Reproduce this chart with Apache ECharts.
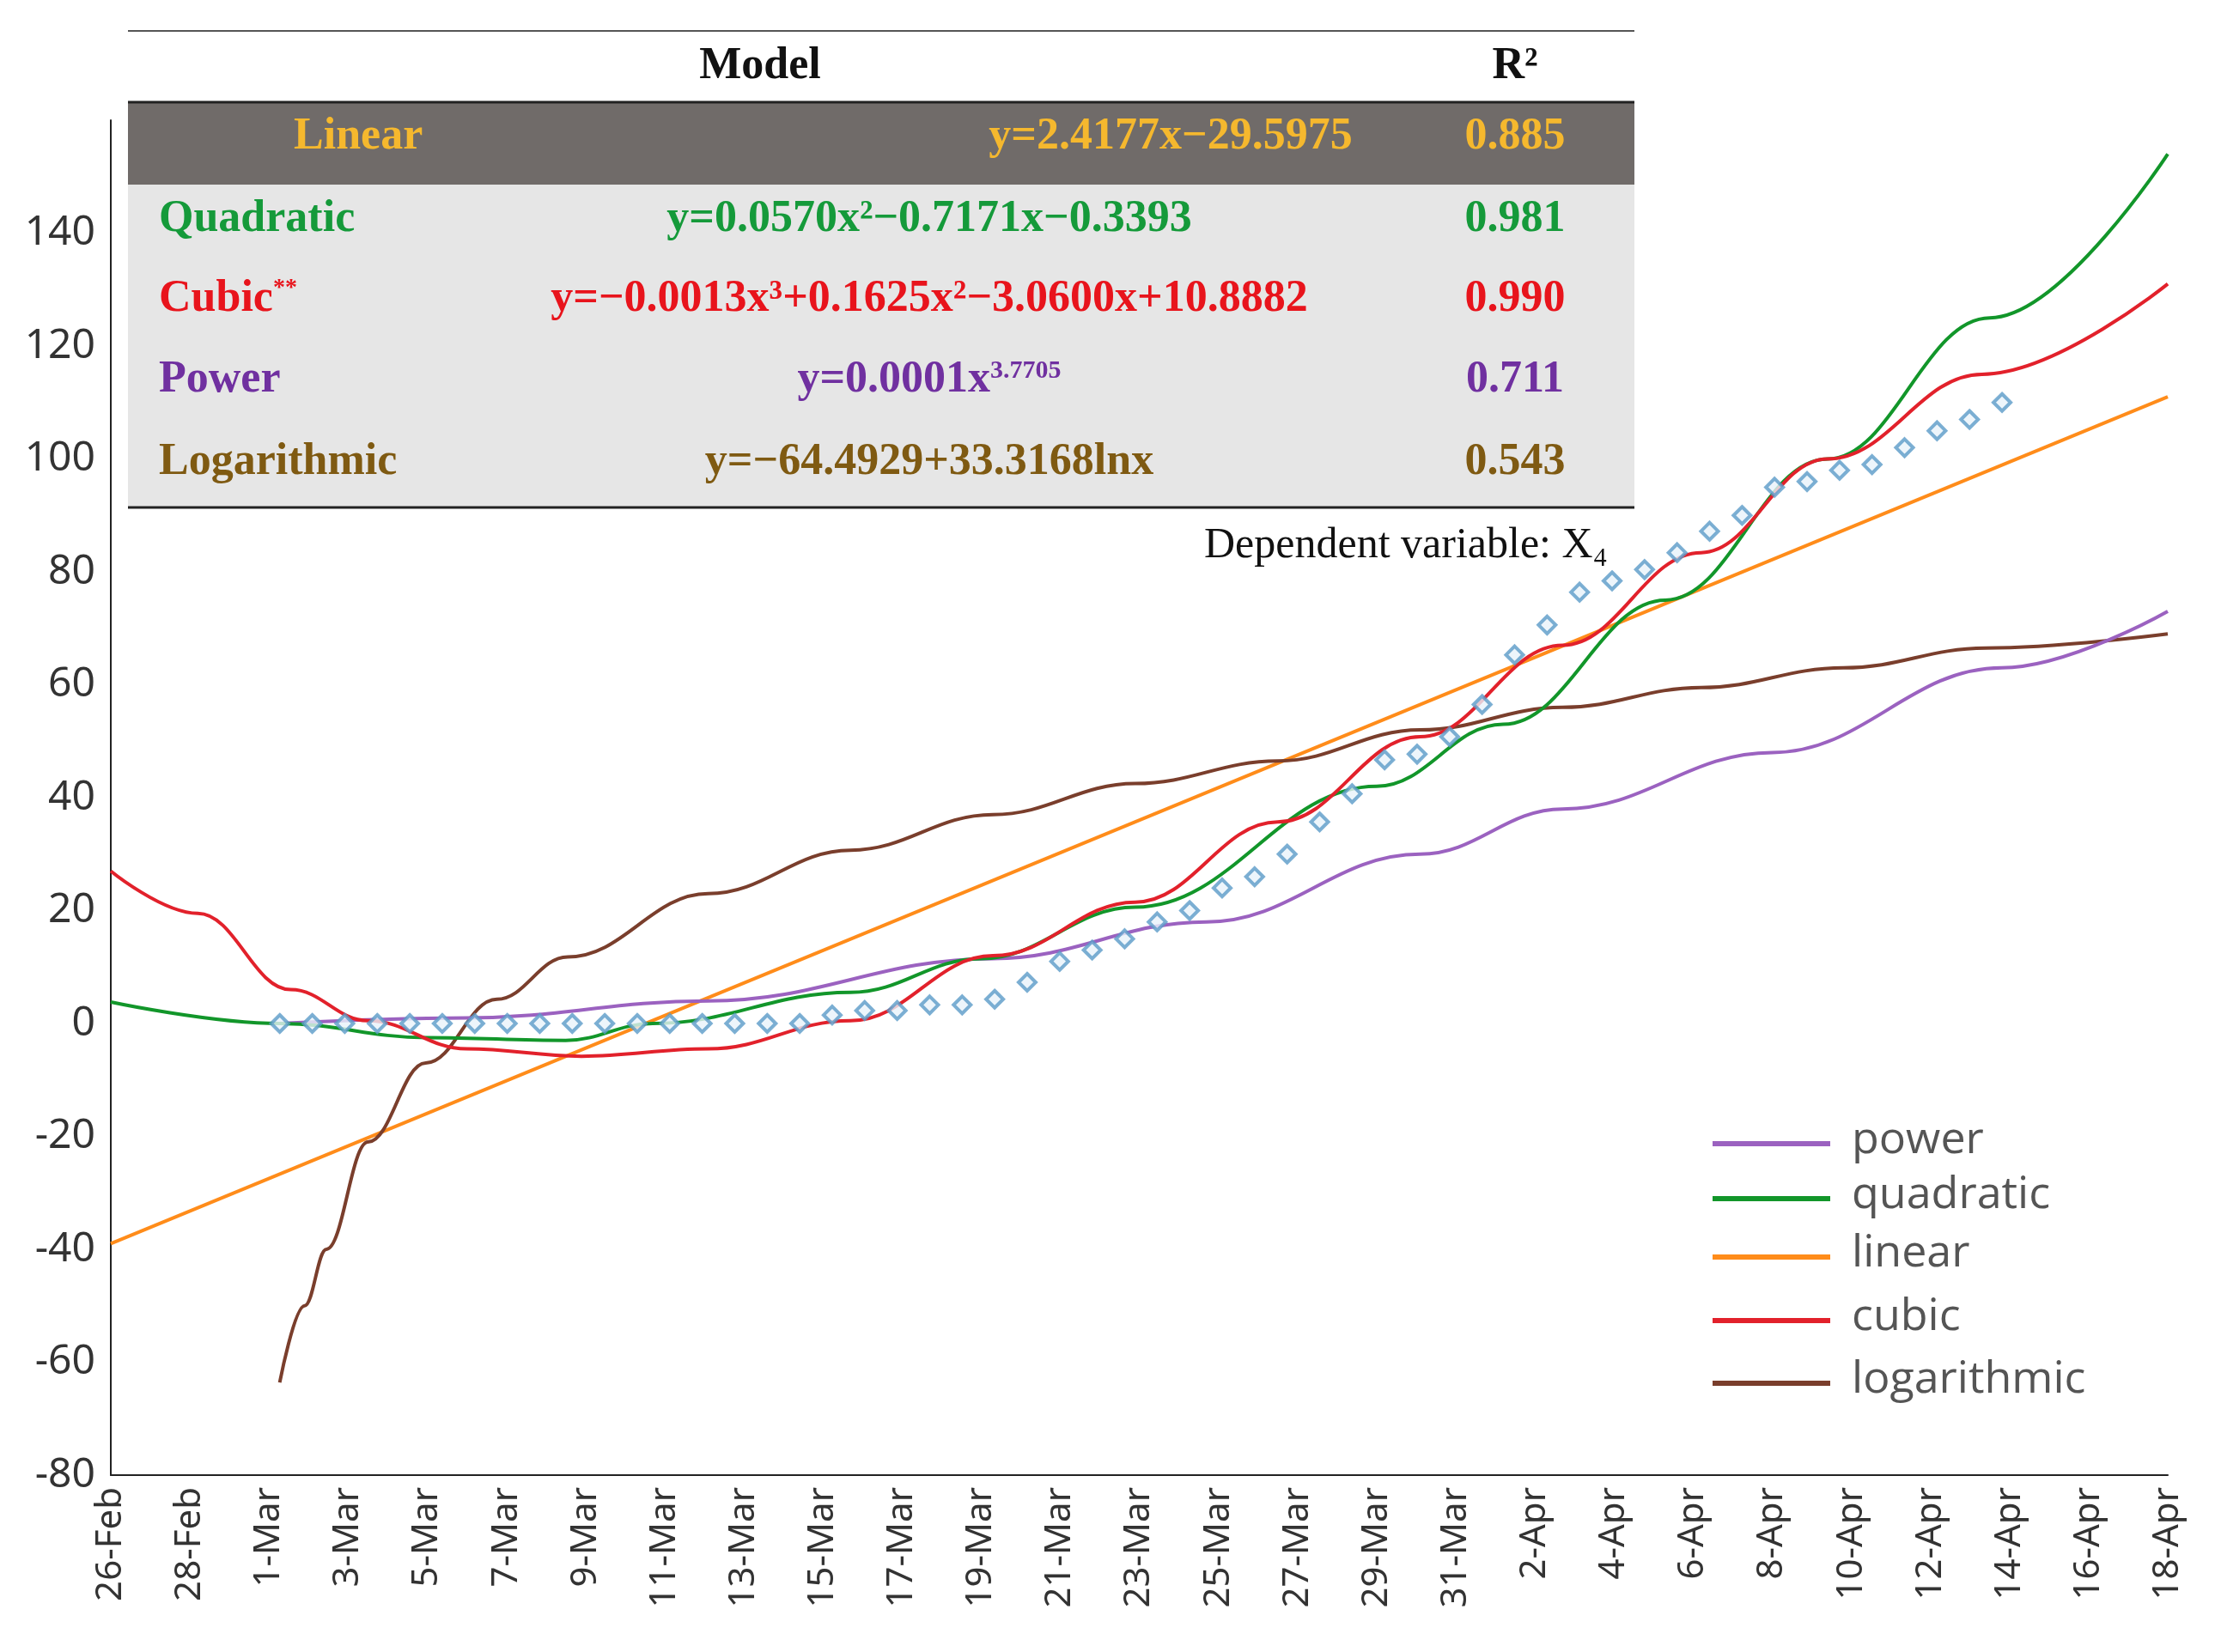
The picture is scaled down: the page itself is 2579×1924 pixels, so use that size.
<!DOCTYPE html>
<html><head><meta charset="utf-8">
<script src="https://cdn.jsdelivr.net/npm/echarts@6/dist/echarts.min.js"></script>
<style>html,body{margin:0;background:#fff}#c{width:2579px;height:1924px}</style>
</head><body><div id="c"></div>
<script>
const dates = ['26-Feb','27-Feb','28-Feb','29-Feb'];
for (let d = 1; d <= 31; d++) dates.push(d + '-Mar');
for (let d = 1; d <= 18; d++) dates.push(d + '-Apr');
const yTicks = [-80,-60,-40,-20,0,20,40,60,80,100,120,140];
// observations (k = observation number, starting at 0)
const observed = [0,0,0,0,0,0,0,0,0,0,0,0,0,0,0,0,0,1.5,2.3,2.3,3.3,3.3,4.3,7.3,11,13,15,18,20,24,26,30,35.7,40.7,46.7,47.7,50.8,56.5,65.3,70.6,76.4,78.4,80.4,83.4,87.2,90,95,96,98,99,102,105,107,110];
// fitted curves read at [day index, value]
const linear = [[0,-39],[52,111]];
const quadratic = [[0,3.8],[4.27,0],[8,-2.5],[11.5,-3],[13.7,0],[18.7,5.5],[22,11.5],[25.9,20.6],[32,42],[35.2,53],[39.3,75],[43.4,100],[47.5,125],[52,154]];
const cubic = [[0,27],[2.2,19.5],[4.55,6],[6.5,0.5],[9,-4.5],[11.9,-5.8],[15.1,-4.5],[18.7,0.5],[22.3,12],[25.9,21.5],[29.5,35.7],[33.1,50.8],[36.7,67],[40.2,83.4],[43.4,100],[47.3,115],[52,131]];
const power = [[4.27,0],[9,1],[15.1,4],[22.3,11.5],[27.7,18],[33.1,30],[36.7,38],[42,48],[47.8,63],[52,73]];
const logarithmic = [[4.27,-63.6],[4.9,-50],[5.45,-40],[6.5,-21],[7.96,-7],[9.76,4.3],[11.55,11.8],[15.1,23],[18.7,30.7],[22.3,37],[25.9,42.5],[29.5,46.5],[33.1,52],[36.7,56],[40.2,59.5],[43.8,63],[47.4,66.5],[52,69]];
const legendNames = ['power','quadratic','linear','cubic','logarithmic'];
const colors = {power:'#9b62c0',quadratic:'#12962a',linear:'#ff8c1a',cubic:'#e2212b',logarithmic:'#7a3e2c'};

const chart = echarts.init(document.getElementById('c'));
const serif = '"Liberation Serif","DejaVu Serif",serif';
function line(name, data){return {type:'line',name,data,smooth:0.4,smoothMonotone:'x',showSymbol:false,lineStyle:{width:4,color:colors[name]},z:3};}
const g = [];
g.push({type:'rect',shape:{x:149,y:119,width:1754,height:96},style:{fill:'#706b69'},z:10});
g.push({type:'rect',shape:{x:149,y:215,width:1754,height:376},style:{fill:'#e6e6e6'},z:10});
g.push({type:'line',shape:{x1:149,y1:36,x2:1903,y2:36},style:{stroke:'#555',lineWidth:2},z:11});
g.push({type:'line',shape:{x1:149,y1:119,x2:1903,y2:119},style:{stroke:'#222',lineWidth:3},z:11});
g.push({type:'line',shape:{x1:149,y1:591,x2:1903,y2:591},style:{stroke:'#222',lineWidth:3},z:11});
function t(x,y,text,color,align){return {type:'text',x,y,z:12,style:{text,fill:color,font:'bold 52px '+serif,align,verticalAlign:'middle'}};}
g.push(t(885,78,'Model','#111','center'));
g.push(t(1764,78,'R²','#111','center'));
const rows = [
 [160,'Linear','y=2.4177x−29.5975','0.885','#f5b82e',342,1363],
 [256,'Quadratic','y=0.0570x²−0.7171x−0.3393','0.981','#159a3a',185,1082],
 [349,'Cubic','y=−0.0013x³+0.1625x²−3.0600x+10.8882','0.990','#e8141c',185,1082],
 [443,'Power','','0.711','#7030a0',185,1082],
 [539,'Logarithmic','y=−64.4929+33.3168lnx','0.543','#7f5a12',185,1082]];
rows.forEach(r=>{
  g.push(t(r[5],r[0],r[1],r[4],'left'));
  if(r[2]) g.push(t(r[6],r[0],r[2],r[4],'center'));
  g.push(t(1764,r[0],r[3],r[4],'center'));
});
g.push({type:'text',x:318,y:336,z:12,style:{text:'**',fill:'#e8141c',font:'bold 28px '+serif,verticalAlign:'middle'}});
g.push({type:'text',x:1082,y:443,z:12,style:{rich:{a:{font:'bold 52px '+serif,fill:'#7030a0'},s:{font:'bold 30px '+serif,fill:'#7030a0',verticalAlign:'top',padding:[0,0,22,0]}},text:'{a|y=0.0001x}{s|3.7705}',align:'center',verticalAlign:'middle'}});
g.push({type:'text',x:1872,y:636,z:12,style:{text:'Dependent variable: X₄',fill:'#111',font:'50px '+serif,align:'right',verticalAlign:'middle'}});
const ly=[1332,1396,1464,1538,1611];
legendNames.forEach((n,i)=>{
  g.push({type:'line',shape:{x1:1994,y1:ly[i],x2:2131,y2:ly[i]},style:{stroke:colors[n],lineWidth:6},z:12});
  g.push({type:'text',x:2156,y:ly[i]-4,z:12,style:{text:n,fill:'#555',font:'52px "Open Sans",sans-serif',verticalAlign:'middle'}});
});

chart.setOption({
  animation:false,
  grid:{left:129,right:55,top:140,bottom:206},
  xAxis:[{type:'value',min:0,max:52,interval:2,
    axisLine:{onZero:false,lineStyle:{color:'#222',width:2}},axisTick:{show:false},splitLine:{show:false},
    axisLabel:{rotate:90,fontSize:42,color:'#333',fontFamily:'Noto Sans',margin:14,formatter:v=>dates[v]||''}},
   {type:'value',min:-5.2,max:58.1,show:false}],
  yAxis:{type:'value',min:-80,max:160,interval:20,
    axisLine:{show:true,lineStyle:{color:'#222',width:2}},axisTick:{show:false},splitLine:{show:false},
    axisLabel:{fontSize:48,color:'#333',fontFamily:'Noto Sans',margin:18,formatter:v=>yTicks.includes(v)?String(v):''}},
  graphic:g,
  series:[
    line('linear',linear),line('logarithmic',logarithmic),line('power',power),line('quadratic',quadratic),line('cubic',cubic),
    {type:'scatter',xAxisIndex:1,data:observed.map((v,k)=>[k,v]),symbol:'diamond',symbolSize:20,
     itemStyle:{color:'#e8f2fa',borderColor:'#5b9bc8',borderWidth:4},z:4}
  ]
});
</script></body></html>
